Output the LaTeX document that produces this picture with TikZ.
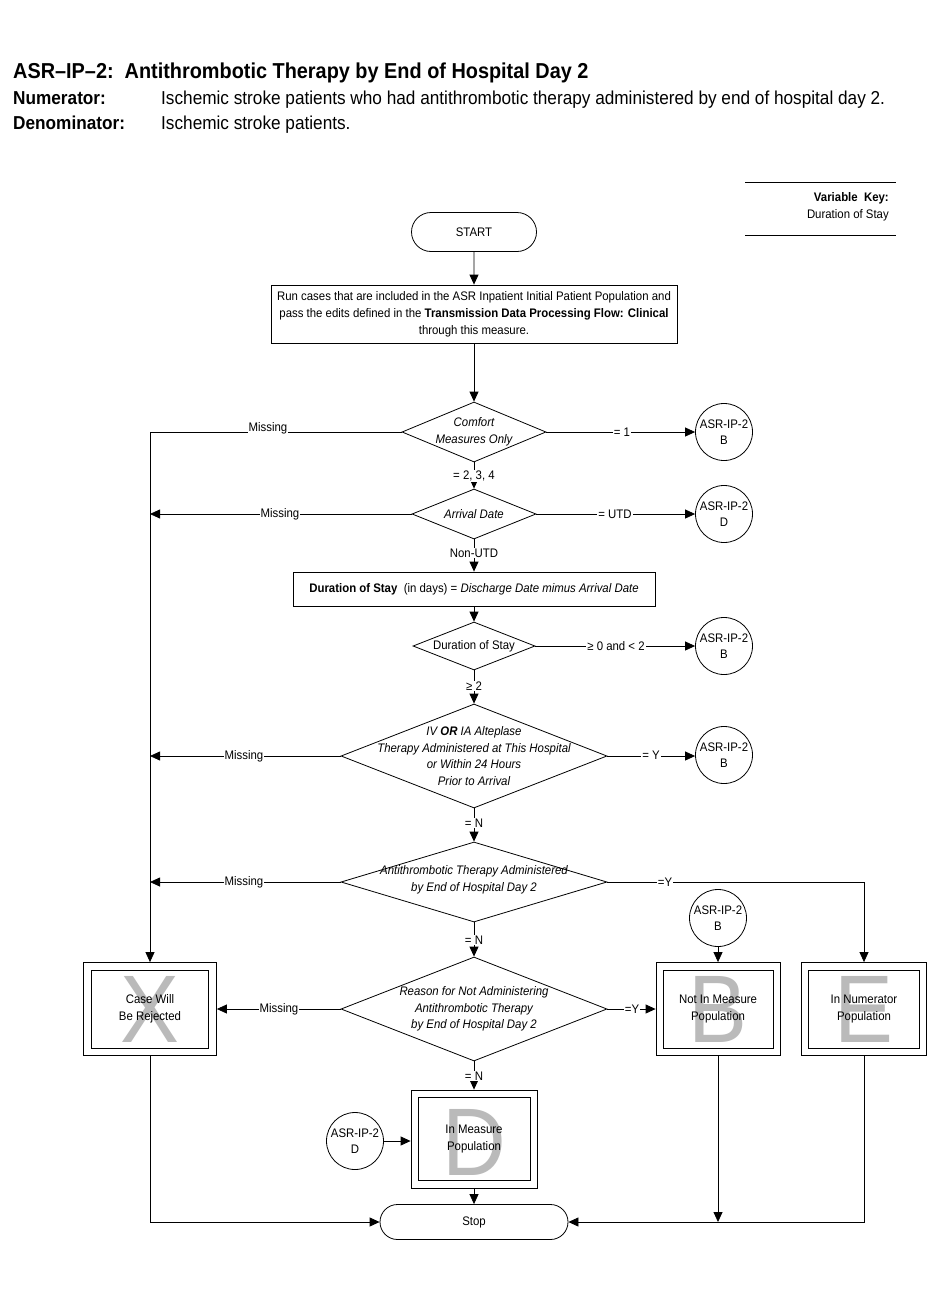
\documentclass[tikz,border=0pt]{standalone}
\usepackage{fontspec}
\setmainfont{Liberation Sans}[FakeStretch=0.92]
\usetikzlibrary{shapes.geometric,shapes.misc,arrows.meta}
\newcommand\fsm{\fontsize{12.4}{16.5}\selectfont}
\begin{document}
\begin{tikzpicture}[x=1pt,y=-1pt,
  lw/.style={line width=0.8pt},
  conn/.style={draw, lw, -{Triangle[length=10pt,width=9pt]}},
  term/.style={draw, lw, rounded rectangle, inner sep=0pt, font=\fsm},
  box/.style={draw, lw, rectangle, inner sep=0pt, align=center, font=\fsm},
  dia/.style 2 args={draw, lw, diamond, inner sep=0pt, minimum width=#1, minimum height=#2},
  dtext/.style={align=center, font=\fsm\itshape, inner sep=0pt},
  circ/.style={draw, lw, circle, inner sep=0pt, minimum size=57, align=center, font=\fsm},
  lab/.style={fill=white, inner sep=1pt, font=\fsm},
  bigl/.style={text=black!27, font=\fontsize{96}{96}\selectfont, inner sep=0pt},
  ]
\fill[white] (0,0) rectangle (930,1290);
\useasboundingbox (0,0) rectangle (930,1290);

% header
\node[anchor=base west, inner sep=0pt, font=\fontsize{21.6}{24}\selectfont\bfseries] (title) at (13,78) {ASR--IP--2:\ \ Antithrombotic Therapy by End of Hospital Day 2};
\node[anchor=base west, inner sep=0pt, font=\fontsize{18.7}{20}\selectfont\bfseries] (numl) at (13,104) {Numerator:};
\node[anchor=base west, inner sep=0pt, font=\fontsize{18.7}{20}\selectfont] (numt) at (161,104) {Ischemic stroke patients who had antithrombotic therapy administered by end of hospital day 2.};
\node[anchor=base west, inner sep=0pt, font=\fontsize{18.7}{20}\selectfont\bfseries] (denl) at (13,129) {Denominator:};
\node[anchor=base west, inner sep=0pt, font=\fontsize{18.7}{20}\selectfont] (dent) at (161,129) {Ischemic stroke patients.};

% key
\coordinate (k1a) at (745,182); \coordinate (k1b) at (896,182);
\coordinate (k2a) at (745,235); \coordinate (k2b) at (896,235);
\draw[lw] (k1a) -- (k1b);
\draw[lw] (k2a) -- (k2b);
\node[anchor=base east, inner sep=0pt, font=\fsm\bfseries] (key1) at (889,201) {Variable\ \ Key:};
\node[anchor=base east, inner sep=0pt, font=\fsm] (key2) at (889,218) {Duration of Stay};

% main column
\node[term, minimum width=125, minimum height=39] (start) at (474,232) {START};
\node[box, minimum width=406, minimum height=58, font=\fontsize{12.4}{17}\selectfont] (run) at (474,314) {Run cases that are included in the ASR Inpatient Initial Patient Population and\\pass the edits defined in the \textbf{Transmission Data Processing Flow: Clinical}\\through this measure.};

\node[dia={144}{60}] (cmo) at (474,432) {};
\node[dtext] (cmot) at (cmo) {Comfort\\Measures Only};
\node[circ] (c1) at (724,432) {ASR-IP-2\\B};

\node[dia={124}{50}] (ad) at (474,514) {};
\node[dtext] (adt) at (ad) {Arrival Date};
\node[circ] (c2) at (724,514) {ASR-IP-2\\D};

\node[box, minimum width=362, minimum height=34] (dur) at (474,589) {\textbf{Duration of Stay}\ \ (in days) = \textit{Discharge Date mimus Arrival Date}};

\node[dia={122}{48}] (ds) at (474,646) {};
\node[dtext, font=\fsm] (dst) at (ds) {Duration of Stay};
\node[circ] (c3) at (724,646) {ASR-IP-2\\B};

\node[dia={266}{104}] (iv) at (474,756) {};
\node[dtext] (ivt) at (iv) {IV \textbf{OR} IA Alteplase\\Therapy Administered at This Hospital\\or Within 24 Hours\\Prior to Arrival};
\node[circ] (c4) at (724,755) {ASR-IP-2\\B};

\node[dia={266}{80}] (atd) at (474,882) {};
\node[dtext] (atdt) at (474,880) {Antithrombotic Therapy Administered\\by End of Hospital Day 2};
\node[circ] (c5) at (718,918) {ASR-IP-2\\B};

\node[dia={266}{104}] (rsn) at (474,1009) {};
\node[dtext] (rsnt) at (rsn) {Reason for Not Administering\\Antithrombotic Therapy\\by End of Hospital Day 2};

% outcome boxes
\node[bigl] (XL) at (150,1009) {X};
\node[box, minimum width=133, minimum height=93] (X) at (150,1009) {};
\node[box, minimum width=117, minimum height=78] (Xi) at (X) {Case Will\\Be Rejected};

\node[bigl] (BL) at (718,1009) {B};
\node[box, minimum width=124, minimum height=93] (B) at (718,1009) {};
\node[box, minimum width=110, minimum height=78] (Bi) at (B) {Not In Measure\\Population};

\node[bigl] (EL) at (864,1009) {E};
\node[box, minimum width=125, minimum height=93] (E) at (864,1009) {};
\node[box, minimum width=111, minimum height=78] (Ei) at (E) {In Numerator\\Population};

\node[bigl] (DL) at (474,1142) {D};
\node[box, minimum width=126, minimum height=98] (D) at (474,1139) {};
\node[box, minimum width=112, minimum height=83] (Di) at (D) {In Measure\\Population};
\node[circ] (cD) at (355,1141) {ASR-IP-2\\D};

\node[term, minimum width=188, minimum height=35] (stop) at (474,1222) {Stop};

% connectors
\draw[conn] (start) -- (run);
\draw[conn] (run) -- (cmo);
\draw[conn] (cmo) -- (c1);
\draw[conn] (cmo.west) -| (X.north);
\draw[conn] (cmo) -- (ad);
\draw[conn] (ad.west) -- (ad.west -| X.north);
\draw[conn] (ad) -- (c2);
\draw[conn] (ad) -- (dur);
\draw[conn] (dur) -- (ds);
\draw[conn] (ds) -- (c3);
\draw[conn] (ds) -- (iv);
\draw[conn] (iv.west) -- (iv.west -| X.north);
\draw[conn] (iv.east) -- (iv.east -| c4.west);
\draw[conn] (iv) -- (atd);
\draw[conn] (atd.west) -- (atd.west -| X.north);
\draw[conn] (atd.east) -| (E.north);
\draw[conn] (c5) -- (B.north);
\draw[conn] (atd) -- (rsn);
\draw[conn] (rsn.west) -- (rsn.west -| X.east);
\draw[conn] (rsn.east) -- (rsn.east -| B.west);
\draw[conn] (rsn) -- (D.north);
\draw[conn] (cD.east) -- (cD.east -| D.west);
\draw[conn] (D) -- (stop);
\draw[conn] (X.south) |- (stop.west);
\draw[conn] (E.south) |- (stop.east);
\draw[conn] (B.south) -- (B.south |- stop.east);

% connector labels
\node[lab] (l1) at (268,428) {Missing};
\node[lab] (l2) at (622,432) {= 1};
\node[lab] (l3) at (474,476) {= 2, 3, 4};
\node[lab] (l4) at (280,514) {Missing};
\node[lab] (l5) at (615,514) {= UTD};
\node[lab] (l6) at (474,553) {Non-UTD};
\node[lab] (l7) at (616,646) {≥ 0 and < 2};
\node[lab] (l8) at (474,686) {≥ 2};
\node[lab] (l9) at (244,756) {Missing};
\node[lab] (l10) at (651,755) {= Y};
\node[lab] (l11) at (474,823) {= N};
\node[lab] (l12) at (244,882) {Missing};
\node[lab] (l13) at (665,882) {=Y};
\node[lab] (l14) at (474,940) {= N};
\node[lab] (l15) at (279,1009) {Missing};
\node[lab] (l16) at (632,1009) {=Y};
\node[lab] (l17) at (474,1076) {= N};
\end{tikzpicture}
\end{document}
